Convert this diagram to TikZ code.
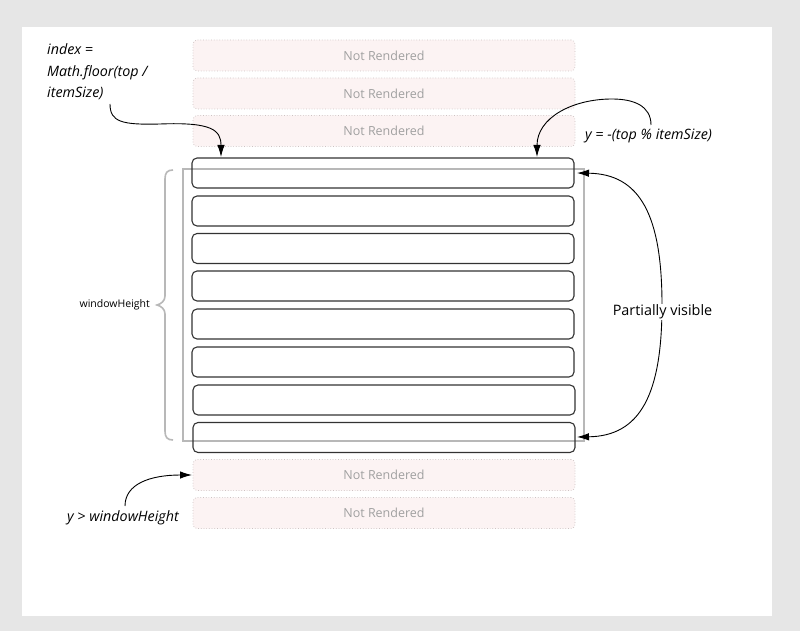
\documentclass[tikz,border=0pt]{standalone}
\usepackage{fontspec}
\setmainfont{Open Sans}
\usetikzlibrary{arrows.meta}
\definecolor{bgray}{HTML}{E6E6E6}
\definecolor{nrfill}{HTML}{FCF3F3}
\definecolor{nrdraw}{HTML}{CCC2C2}
\definecolor{nrtext}{HTML}{A0A0A0}
\definecolor{wingray}{HTML}{B8B8B8}
\definecolor{boxdraw}{HTML}{333333}
\tikzset{
  nrbox/.style={draw=nrdraw, dotted, line width=0.7pt, fill=nrfill, rounded corners=4pt, minimum width=382pt, minimum height=31pt, inner sep=0pt, text=nrtext, font=\fontsize{12.5}{14}\selectfont},
  rbox/.style={draw=boxdraw, line width=1.1pt, rounded corners=5pt, minimum width=382pt, minimum height=30pt, inner sep=0pt},
  winrect/.style={draw=wingray, line width=1.6pt},
  conn/.style={draw=black, line width=0.9pt, -{Latex[length=12pt,width=7.5pt]}},
  note/.style={font=\itshape\fontsize{14.3}{21.5}\selectfont, inner sep=0pt, align=left},
}
\begin{document}
\begin{tikzpicture}[x=1pt,y=-1pt]
\useasboundingbox (0,0) rectangle (800,631);
\fill[bgray] (0,0) rectangle (800,631);
\fill[white] (22,27) rectangle (772,616);

% window rectangle
\node[winrect, minimum width=401pt, minimum height=272pt, inner sep=0pt] (win) at (383.5,305) {};

% not rendered boxes
\node[nrbox] (nr1) at (384,55.5) {Not Rendered};
\node[nrbox] (nr2) at (384,93.5) {Not Rendered};
\node[nrbox] (nr3) at (384,131) {Not Rendered};
\node[nrbox] (nr4) at (384,475) {Not Rendered};
\node[nrbox] (nr5) at (384,513) {Not Rendered};

% rendered rows
\node[rbox] (r1) at (383,173) {};
\node[rbox] (r2) at (383,211) {};
\node[rbox] (r3) at (383,248.5) {};
\node[rbox] (r4) at (383,286) {};
\node[rbox] (r5) at (383,324) {};
\node[rbox] (r6) at (383,362) {};
\node[rbox] (r7) at (384,400) {};
\node[rbox] (r8) at (384,437.5) {};

% brace
\draw[wingray, line width=1.6pt] (173,170) .. controls (167,170) and (165,173) .. (165,179)
  -- (165,296) .. controls (165,301) and (161,304) .. (157,305)
  .. controls (161,306) and (165,309) .. (165,314)
  -- (165,431) .. controls (165,437) and (167,440) .. (173,440);
\node[anchor=east, inner sep=0pt, font=\fontsize{10.5}{12}\selectfont] (wh) at (150,305) {windowHeight};

% labels
\node[note, anchor=west] (idx) at (47,72) {index =\\Math.floor(top /\\itemSize)};
\node[note, anchor=west] (ylab) at (585,136) {y = -(top \% itemSize)};
\node[note, anchor=west] (ywh) at (67,518) {y > windowHeight};

% coordinates
\coordinate (a1s) at (110,104);
\coordinate (a1e) at (221,157);
\coordinate (a2s) at (651,125);
\coordinate (a2e) at (537,157);
\coordinate (a3t) at (577,173);
\coordinate (a3b) at (577,437);
\coordinate (a4s) at (125,506);
\coordinate (a4e) at (192,475);

% connectors
\draw[conn] (a1s) .. controls (110,122) and (122,125) .. (160,124)
  .. controls (212,122) and (221,130) .. (a1e);
\draw[conn] (a2s) .. controls (651,106) and (634,99) .. (612,99)
  .. controls (572,99) and (537,118) .. (a2e);
\draw[conn, {Latex[length=12pt,width=7.5pt]}-{Latex[length=12pt,width=7.5pt]}] (a3t)
  .. controls (640,174) and (662,215) .. (662,305)
  .. controls (662,395) and (640,436) .. (a3b);
\draw[conn] (a4s) .. controls (125,484) and (150,475) .. (a4e);

\node[fill=white, inner sep=1pt, font=\fontsize{14.4}{16}\selectfont] (pv) at (662.5,312) {Partially visible};
\end{tikzpicture}
\end{document}
